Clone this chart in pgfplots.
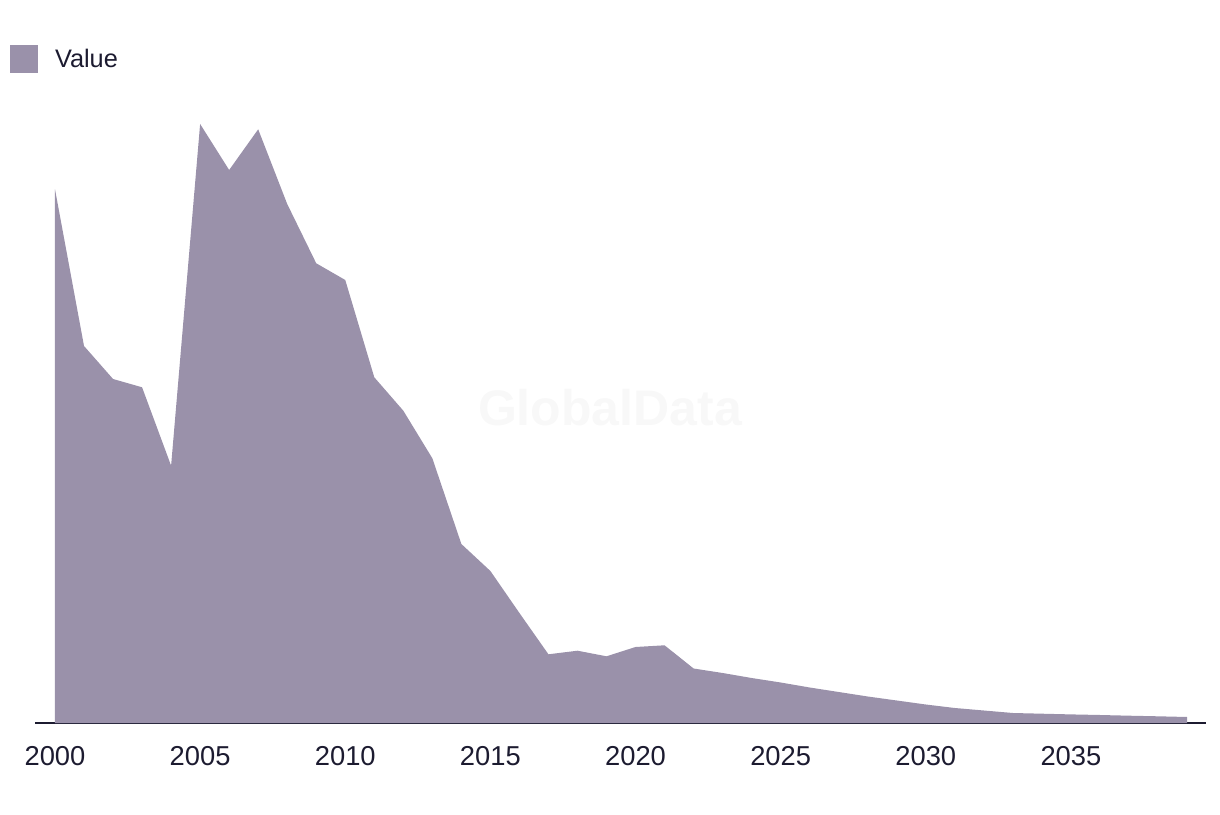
\documentclass[border=0pt]{standalone}
\usepackage{pgfplots}
\pgfplotsset{compat=1.18}
\usepackage{pgfplotstable}
\usepackage{fontspec}
\setmainfont{Liberation Sans}
\definecolor{areacol}{HTML}{9A91AA}
\definecolor{txtcol}{HTML}{1C1B30}
\definecolor{wmcol}{HTML}{F8F8F8}
\pgfplotstableread{
year value
2000 533.7
2001 377
2002 344
2003 335.7
2004 257.3
2005 599
2006 553
2007 593.7
2008 519
2009 459.7
2010 443
2011 345.7
2012 312.3
2013 264.7
2014 179
2015 152
2016 110
2017 68.7
2018 72.3
2019 66.7
2020 76
2021 77.7
2022 54.5
2023 50
2024 45
2025 40.5
2026 35.5
2027 31
2028 26.5
2029 22.5
2030 18.5
2031 15
2032 12.5
2033 10
2034 9.3
2035 8.6
2036 8
2037 7.3
2038 6.7
2039 6
}\datatable
\begin{document}
\begin{tikzpicture}
\begin{axis}[
  at={(0,0)}, anchor=south west,
  scale only axis,
  width=878.25pt, height=467.25pt,
  xmin=1999.311, xmax=2039.654,
  ymin=0, ymax=623,
  axis x line*=bottom,
  hide y axis,
  axis line style={draw=txtcol, line width=1.5pt},
  xtick={2000,2005,...,2035},
  xticklabel style={font=\fontsize{20.5}{23}\selectfont, text=txtcol, yshift=-14pt},
  x tick label style={/pgf/number format/.cd, set thousands separator={}, 1000 sep={}},
  /pgf/number format/assume math mode=true,
  major tick length=0pt,
  legend style={at={(rel axis cs:-0.02135,1.0658)}, anchor=west, draw=none, fill=none,
    inner sep=0pt, outer sep=0pt, font=\fontsize{19}{22}\selectfont, text=txtcol,
    nodes={inner sep=0pt},
    /tikz/every odd column/.append style={column sep=12.75pt}},
  legend image code/.code={\fill[areacol] (0pt,-10.5pt) rectangle (21pt,10.5pt);},
  clip=false,
]
\node[font=\fontsize{37.5}{42}\selectfont\bfseries, text=wmcol] at (axis cs:2019.12,315) {GlobalData};
\addplot[fill=areacol, draw=none] table[x=year, y=value] {\datatable} \closedcycle;
\addlegendentry{Value}
\end{axis}
\pgfresetboundingbox
\path[use as bounding box] (-26.25pt,-68.25pt) rectangle (888.75pt,542.25pt);
\end{tikzpicture}
\end{document}
